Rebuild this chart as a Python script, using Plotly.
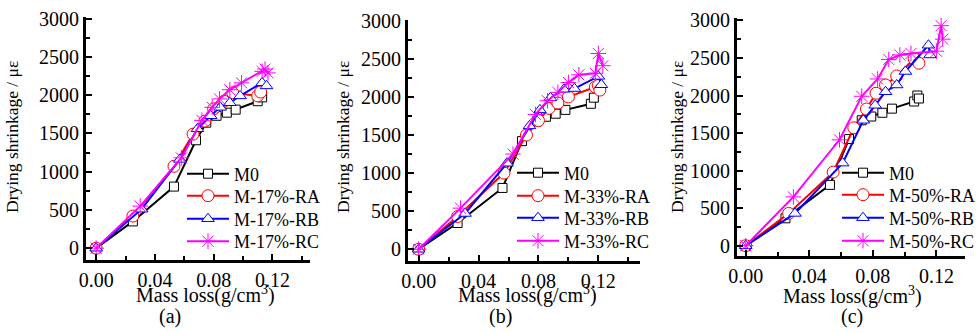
import plotly.graph_objects as go

# ---------------- data ----------------
# Panel (a): 17 % replacement
a_M0_x = [0, 0.025, 0.053, 0.068, 0.075, 0.082, 0.089, 0.095, 0.110, 0.113]
a_M0_y = [0, 350, 805, 1410, 1640, 1730, 1770, 1810, 1920, 1970]
a_RA_x = [0, 0.025, 0.053, 0.066, 0.074, 0.080, 0.087, 0.093, 0.110, 0.112]
a_RA_y = [0, 420, 1070, 1490, 1660, 1820, 1920, 2030, 1990, 2040]
a_RB_x = [0, 0.031, 0.057, 0.069, 0.078, 0.0845, 0.091, 0.098, 0.113, 0.116]
a_RB_y = [0, 510, 1160, 1560, 1730, 1840, 1900, 1990, 2160, 2120]
a_RC_x = [0, 0.030, 0.058, 0.072, 0.079, 0.084, 0.091, 0.099, 0.113, 0.115, 0.117]
a_RC_y = [0, 550, 1180, 1670, 1840, 1950, 2070, 2160, 2310, 2340, 2290]

# Panel (b): 33 % replacement
b_M0_x = [0, 0.026, 0.056, 0.069, 0.079, 0.085, 0.0915, 0.098, 0.115, 0.117]
b_M0_y = [0, 345, 805, 1420, 1680, 1740, 1780, 1830, 1910, 1990]
b_RA_x = [0, 0.026, 0.057, 0.072, 0.080, 0.087, 0.093, 0.100, 0.118, 0.120, 0.121]
b_RA_y = [0, 430, 1000, 1500, 1690, 1850, 1920, 2000, 2130, 2150, 2090]
b_RB_x = [0, 0.031, 0.059, 0.074, 0.081, 0.088, 0.097, 0.104, 0.120, 0.122]
b_RB_y = [0, 470, 1130, 1620, 1830, 1990, 2100, 2110, 2270, 2160]
b_RC_x = [0, 0.028, 0.063, 0.078, 0.086, 0.093, 0.100, 0.107, 0.118, 0.120, 0.123]
b_RC_y = [0, 540, 1250, 1770, 1950, 2060, 2190, 2290, 2310, 2570, 2410]

# Panel (c): 50 % replacement
c_M0_x = [0, 0.025, 0.053, 0.065, 0.073, 0.079, 0.086, 0.092, 0.106, 0.108, 0.109]
c_M0_y = [0, 365, 810, 1420, 1670, 1720, 1770, 1825, 1920, 2000, 1960]
c_RA_x = [0, 0.027, 0.055, 0.068, 0.076, 0.082, 0.088, 0.095, 0.106, 0.109]
c_RA_y = [0, 430, 980, 1570, 1820, 2030, 2140, 2260, 2490, 2430]
c_RB_x = [0, 0.031, 0.061, 0.074, 0.0815, 0.088, 0.095, 0.1005, 0.115, 0.116]
c_RB_y = [0, 430, 1100, 1670, 1870, 2050, 2140, 2320, 2670, 2540]
c_RC_x = [0, 0.030, 0.059, 0.073, 0.083, 0.090, 0.097, 0.104, 0.120, 0.123, 0.124]
c_RC_y = [0, 650, 1410, 1990, 2220, 2480, 2540, 2560, 2590, 2930, 2750]

panel_labels = ["(a)", "(b)", "(c)"]
series_names = [
    ["M0", "M-17%-RA", "M-17%-RB", "M-17%-RC"],
    ["M0", "M-33%-RA", "M-33%-RB", "M-33%-RC"],
    ["M0", "M-50%-RA", "M-50%-RB", "M-50%-RC"],
]
panel_data = [
    [(a_M0_x, a_M0_y), (a_RA_x, a_RA_y), (a_RB_x, a_RB_y), (a_RC_x, a_RC_y)],
    [(b_M0_x, b_M0_y), (b_RA_x, b_RA_y), (b_RB_x, b_RB_y), (b_RC_x, b_RC_y)],
    [(c_M0_x, c_M0_y), (c_RA_x, c_RA_y), (c_RB_x, c_RB_y), (c_RC_x, c_RC_y)],
]
x_tick_vals = [0.00, 0.04, 0.08, 0.12]
y_tick_vals = [0, 500, 1000, 1500, 2000, 2500, 3000]

# ---------------- styling ----------------
W, H = 978, 332
FONT = "Liberation Serif"
colors = ["#000000", "#FF0000", "#0000FF", "#FF00FF"]
symbols = ["square", "circle", "triangle-up", "asterisk-open"]
msizes = [9, 12, 11, 13]

# pixel boxes of the three plot areas: (left, right, top, bottom)
boxes = [(86, 310, 17, 260), (408, 640, 20, 261), (737, 965, 18, 256)]
x_ranges = [[-0.0069, 0.1456], [-0.0071, 0.1478], [-0.0055, 0.1380]]
y_ranges = [[-154, 3020], [-154, 3010], [-137, 3032]]
legend_line_x = [187, 517, 842]
legend_rows = [[174, 196, 219, 241.5], [173, 196, 218, 241], [173, 195, 218, 241]]
ylab_x = [12, 343, 677]
ylab_y = [137, 137, 137]
xlab_pos = [(205, 294), (527, 294), (852, 295)]
plab_pos = [(170, 316), (500, 316), (852, 316)]

fig = go.Figure()

for p in range(3):
    xa = "x" if p == 0 else f"x{p+1}"
    ya = "y" if p == 0 else f"y{p+1}"
    for s in range(4):
        k = p * 4 + s + 1
        lg = "legend" if k == 1 else f"legend{k}"
        xs, ys = panel_data[p][s]
        sym = symbols[s]
        if sym == "asterisk-open":
            marker = dict(symbol=sym, size=msizes[s], color=colors[s],
                          line=dict(color=colors[s], width=1))
        else:
            marker = dict(symbol=sym, size=msizes[s], color="white",
                          line=dict(color=colors[s], width=1))
        fig.add_trace(go.Scatter(
            x=xs, y=ys, mode="lines+markers", name=series_names[p][s],
            line=dict(color=colors[s], width=2), marker=marker,
            xaxis=xa, yaxis=ya, legend=lg, showlegend=True,
        ))

layout = dict(
    template="none",
    width=W, height=H, margin=dict(l=0, r=0, t=0, b=0, pad=0, autoexpand=False),
    paper_bgcolor="white", plot_bgcolor="white",
    font=dict(family=FONT, size=20, color="black"),
)

annotations = []
for p in range(3):
    l, r, t, b = boxes[p]
    xk = "xaxis" if p == 0 else f"xaxis{p+1}"
    yk = "yaxis" if p == 0 else f"yaxis{p+1}"
    xa = "x" if p == 0 else f"x{p+1}"
    ya = "y" if p == 0 else f"y{p+1}"
    layout[xk] = dict(
        domain=[l / W, r / W], anchor=ya, range=x_ranges[p], automargin=False,
        tickmode="array", tickvals=x_tick_vals, tickformat=".2f",
        ticks="inside", ticklen=6, tickwidth=2, tickcolor="black",
        minor=dict(ticks="inside", ticklen=4, tickwidth=2, dtick=0.02, tick0=0, tickcolor="black"),
        showline=True, linewidth=3, linecolor="black", mirror=False,
        showgrid=False, zeroline=False,
        tickfont=dict(family=FONT, size=20, color="black"),
    )
    layout[yk] = dict(
        domain=[(H - b) / H, (H - t) / H], anchor=xa, range=y_ranges[p], automargin=False,
        tickmode="array", tickvals=y_tick_vals,
        ticks="inside", ticklen=6, tickwidth=2, tickcolor="black",
        minor=dict(ticks="inside", ticklen=4, tickwidth=2, dtick=250, tick0=0, tickcolor="black"),
        showline=True, linewidth=3, linecolor="black", mirror=False,
        showgrid=False, zeroline=False,
        tickfont=dict(family=FONT, size=20, color="black"),
    )
    for s in range(4):
        k = p * 4 + s + 1
        lk = "legend" if k == 1 else f"legend{k}"
        layout[lk] = dict(
            x=(legend_line_x[p] - 5) / W, y=(H - legend_rows[p][s]) / H,
            xanchor="left", yanchor="middle",
            bgcolor="rgba(0,0,0,0)", borderwidth=0,
            font=dict(family=FONT, size=18, color="black"),
            itemwidth=42,
        )
    annotations.append(dict(
        text="Drying shrinkage / με", textangle=-90, showarrow=False,
        x=ylab_x[p] / W, y=(H - ylab_y[p]) / H, xref="paper", yref="paper",
        xanchor="center", yanchor="middle",
        font=dict(family=FONT, size=17.5, color="black"),
    ))
    annotations.append(dict(
        text="Mass loss(g/cm<sup>3</sup>)", showarrow=False,
        x=xlab_pos[p][0] / W, y=(H - xlab_pos[p][1]) / H, xref="paper", yref="paper",
        xanchor="center", yanchor="middle",
        font=dict(family=FONT, size=20, color="black"),
    ))
    annotations.append(dict(
        text=panel_labels[p], showarrow=False,
        x=plab_pos[p][0] / W, y=(H - plab_pos[p][1]) / H, xref="paper", yref="paper",
        xanchor="center", yanchor="middle",
        font=dict(family=FONT, size=20, color="black"),
    ))
layout["annotations"] = annotations
fig.update_layout(**layout)

fig.write_html("out.html", config={"displayModeBar": False},
               post_script="document.body.style.margin='0px';")
